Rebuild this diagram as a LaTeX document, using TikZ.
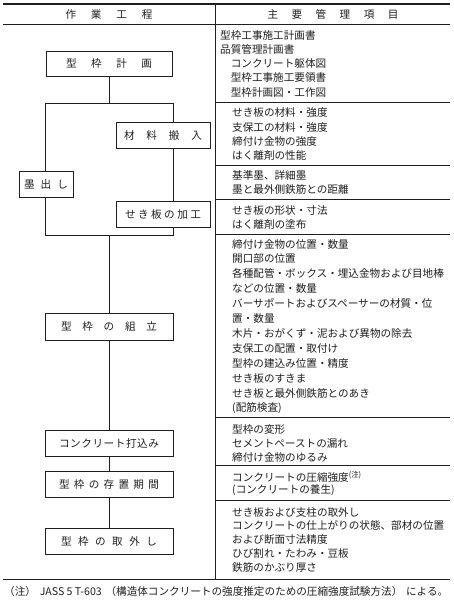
\documentclass[tikz,border=0pt]{standalone}
\usepackage{fontspec}
\usetikzlibrary{positioning}
\newfontfamily\jp{Noto Sans CJK JP}
\newcommand{\jpfont}{\fontsize{10.6pt}{13pt}\jp}
\definecolor{inkColor}{rgb}{0.12,0.12,0.12}

\begin{document}
\begin{tikzpicture}[x=1pt,y=-1pt,inkColor]

          \tikzstyle{stepBox} = [draw, line width=0.6pt, fill=white, inner sep=0pt, minimum height=26pt, font=\jpfont];
          \tikzstyle{itemText} = [anchor=west, inner sep=0pt, font=\jpfont];
          \tikzstyle{headText} = [inner sep=0pt, font=\jpfont];
          \tikzstyle{flowEdge} = [line width=0.6pt];
          \tikzstyle{ruleLine} = [line width=0.7pt];
          \tikzstyle{outerRule} = [line width=1.1pt];

          \useasboundingbox (0,0) rectangle (453,600);
          \fill[white] (0,0) rectangle (453,600);

          % table frame
          \draw[outerRule] (3,4) -- (450,4);
          \draw[ruleLine] (3,24.5) -- (450,24.5);
          \draw[outerRule] (3,579.5) -- (450,579.5);
          \draw[ruleLine] (215,4) -- (215,579.5);
          \foreach \y in {102.5,165.5,199.5,234.5,417,465,500.5}
            \draw[ruleLine] (215,\y) -- (450,\y);

          \node[headText] (headWork) at (109,14.5) {\makebox[87pt]{作\hfill 業\hfill 工\hfill 程}};
          \node[headText] (headItems) at (333,14.5) {\makebox[131pt]{主\hfill 要\hfill 管\hfill 理\hfill 項\hfill 目}};

          % flow of work
          \coordinate (loopTL) at (45,103);
          \coordinate (loopTR) at (173,103);
          \coordinate (loopBR) at (173,235);
          \coordinate (loopBL) at (45,235);
          \coordinate (loopT) at (109,103);
          \coordinate (loopB) at (109,235);
          \draw[flowEdge] (loopTL) -- (loopTR) -- (loopBR) -- (loopBL) -- cycle;

          \node[stepBox, minimum width=126pt, minimum height=25pt] (plan) at (109,63.5) {\makebox[86pt]{型\hfill 枠\hfill 計\hfill 画}};
          \node[stepBox, minimum width=54pt] (sumi) at (46,184) {\makebox[44pt]{墨\hfill 出\hfill し}};
          \node[stepBox, minimum width=94pt] (zairyo) at (163,135) {\makebox[78pt]{材\hfill 料\hfill 搬\hfill 入}};
          \node[stepBox, minimum width=94pt] (sekiita) at (163,214) {\makebox[76pt]{せ\hfill き\hfill 板\hfill の\hfill 加\hfill 工}};
          \node[stepBox, minimum width=128pt, minimum height=27pt] (kumitate) at (109,326.5) {\makebox[96pt]{型\hfill 枠\hfill の\hfill 組\hfill 立}};
          \node[stepBox, minimum width=128pt] (dakomi) at (109,443) {\makebox[100pt]{コ\hfill ン\hfill ク\hfill リ\hfill ー\hfill ト\hfill 打\hfill 込\hfill み}};
          \node[stepBox, minimum width=128pt] (sonchi) at (109,484.5) {\makebox[100pt]{型\hfill 枠\hfill の\hfill 存\hfill 置\hfill 期\hfill 間}};
          \node[stepBox, minimum width=128pt] (torihazushi) at (109,541) {\makebox[96pt]{型\hfill 枠\hfill の\hfill 取\hfill 外\hfill し}};

          \draw[flowEdge] (plan) -- (loopT);
          \draw[flowEdge] (loopB) -- (kumitate);
          \draw[flowEdge] (kumitate) -- (dakomi);
          \draw[flowEdge] (dakomi) -- (sonchi);
          \draw[flowEdge] (sonchi) -- (torihazushi);

          % control items
          \foreach \txt [count=\i] in {型枠工事施工計画書, 品質管理計画書, 　コンクリート躯体図, 　型枠工事施工要領書, 　型枠計画図・工作図}
            \node[itemText] (docs-\i) at (220,{35+14.3*(\i-1)}) {\txt};
          \foreach \txt [count=\i] in {せき板の材料・強度, 支保工の材料・強度, 締付け金物の強度, はく離剤の性能}
            \node[itemText] (material-\i) at (232,{113+14.3*(\i-1)}) {\txt};
          \foreach \txt [count=\i] in {基準墨、詳細墨, 墨と最外側鉄筋との距離}
            \node[itemText] (marking-\i) at (232,{175.5+14.3*(\i-1)}) {\txt};
          \foreach \txt [count=\i] in {せき板の形状・寸法, はく離剤の塗布}
            \node[itemText] (shaping-\i) at (232,{210+14.3*(\i-1)}) {\txt};
          \foreach \txt [count=\i] in {締付け金物の位置・数量, 開口部の位置, 各種配管・ボックス・埋込金物および目地棒, などの位置・数量, バーサポートおよびスペーサーの材質・位, 置・数量, 木片・おがくず・泥および異物の除去, 支保工の配置・取付け, 型枠の建込み位置・精度, せき板のすきま, せき板と最外側鉄筋とのあき, (配筋検査)}
            \node[itemText] (assembly-\i) at (232,{244+14.9*(\i-1)}) {\txt};
          \foreach \txt [count=\i] in {型枠の変形, セメントペーストの漏れ, 締付け金物のゆるみ}
            \node[itemText] (placing-\i) at (232,{429+14.3*(\i-1)}) {\txt};
          \foreach \txt [count=\i] in {{コンクリートの圧縮強度\textsuperscript{(注)}}, (コンクリートの養生)}
            \node[itemText] (curing-\i) at (232,{476.5+14*(\i-1)}) {\txt};
          \foreach \txt [count=\i] in {せき板および支柱の取外し, コンクリートの仕上がりの状態、部材の位置, および断面寸法精度, ひび割れ・たわみ・豆板, 鉄筋のかぶり厚さ}
            \node[itemText] (removal-\i) at (232,{512+13.8*(\i-1)}) {\txt};

          \node[itemText] (note) at (4,591) {\makebox[444pt]{（注）\hfill JASS 5 T-603\hfill （構造体コンクリートの強度推定のための圧縮強度試験方法）\hfill による。}};
        \end{tikzpicture}
\end{document}
